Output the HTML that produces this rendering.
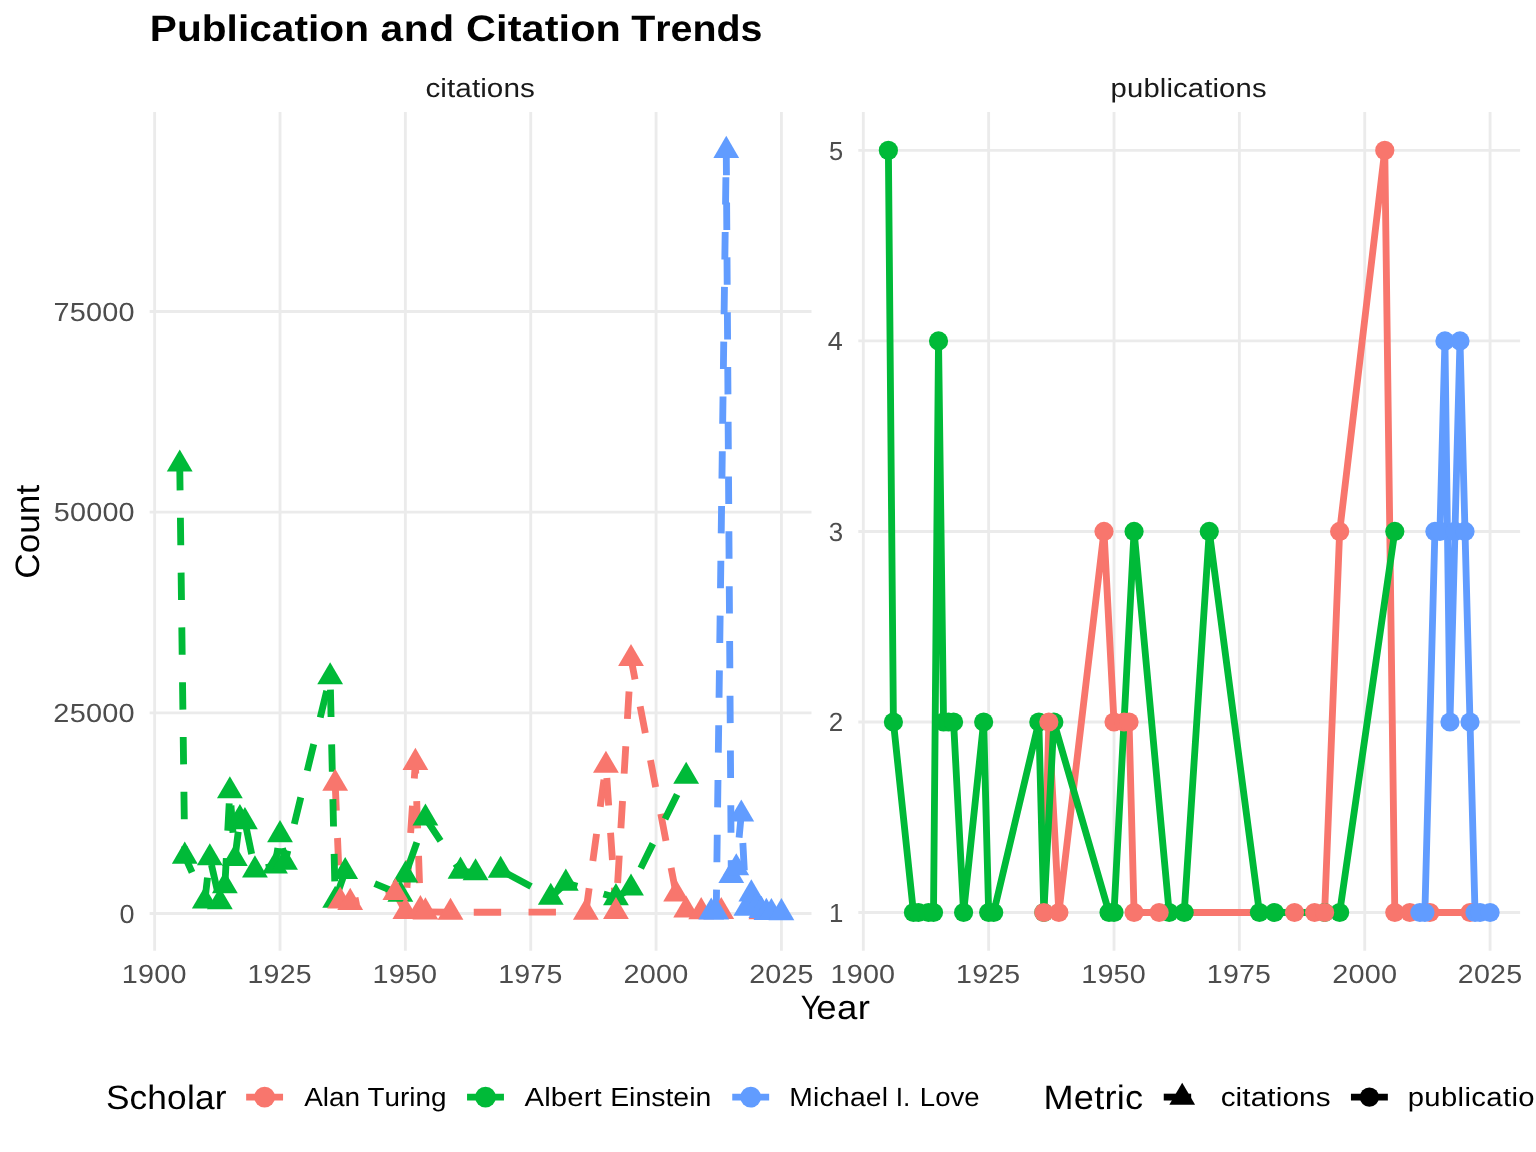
<!DOCTYPE html>
<html><head><meta charset="utf-8"><title>Publication and Citation Trends</title>
<style>html,body{margin:0;padding:0;background:#fff;width:1536px;height:1152px;overflow:hidden}body{position:relative;font-family:"Liberation Sans",sans-serif}</style>
</head><body>
<svg width="1536" height="1152" viewBox="0 0 1536 1152" style="display:block;position:absolute;left:0;top:0">
<rect width="1536" height="1152" fill="#fff"/>
<g stroke="#EBEBEB" stroke-width="2.85" fill="none">
<path d="M149.65 913.5H811.5"/>
<path d="M149.65 712.83H811.5"/>
<path d="M149.65 512.17H811.5"/>
<path d="M149.65 311.5H811.5"/>
<path d="M154.66 112.06V950.75"/>
<path d="M280.01 112.06V950.75"/>
<path d="M405.36 112.06V950.75"/>
<path d="M530.72 112.06V950.75"/>
<path d="M656.07 112.06V950.75"/>
<path d="M781.42 112.06V950.75"/>
</g>
<g stroke="#EBEBEB" stroke-width="2.85" fill="none">
<path d="M858.3 912.5H1520.1"/>
<path d="M858.3 721.98H1520.1"/>
<path d="M858.3 531.45H1520.1"/>
<path d="M858.3 340.92H1520.1"/>
<path d="M858.3 150.4H1520.1"/>
<path d="M863.31 112.06V950.75"/>
<path d="M988.66 112.06V950.75"/>
<path d="M1114.01 112.06V950.75"/>
<path d="M1239.37 112.06V950.75"/>
<path d="M1364.72 112.06V950.75"/>
<path d="M1490.07 112.06V950.75"/>
</g>
<g>
<g fill="none" stroke="#F8766D" stroke-width="6.85" stroke-dasharray="27.4 27.4">
<path d="M335.17 783.26L340.18 900.9" stroke-dashoffset="0"/>
<path d="M340.18 900.9L350.21 902.34" stroke-dashoffset="8.15"/>
<path d="M350.21 902.34L395.34 892.47" stroke-dashoffset="18.28"/>
<path d="M395.34 892.47L405.36 911.41" stroke-dashoffset="9.67"/>
<path d="M405.36 911.41L415.39 762.36" stroke-dashoffset="31.1"/>
<path d="M415.39 762.36L420.41 909.54" stroke-dashoffset="16.1"/>
<path d="M420.41 909.54L425.42 911.8" stroke-dashoffset="53.77"/>
<path d="M425.42 911.8L450.49 912.25" stroke-dashoffset="4.46"/>
<path d="M450.49 912.25L585.87 912.15" stroke-dashoffset="31.54"/>
<path d="M585.87 912.15L605.93 765.21" stroke-dashoffset="3.22"/>
<path d="M605.93 765.21L615.95 911.4" stroke-dashoffset="41.92"/>
<path d="M615.95 911.4L631 658.49" stroke-dashoffset="26.36"/>
<path d="M631 658.49L676.12 893.91" stroke-dashoffset="6.11"/>
<path d="M676.12 893.91L686.15 909.9" stroke-dashoffset="26.62"/>
<path d="M686.15 909.9L701.19 911.57" stroke-dashoffset="45.49"/>
<path d="M701.19 911.57L721.25 911.49" stroke-dashoffset="5.82"/>
<path d="M721.25 911.49L761.36 911.7" stroke-dashoffset="25.88"/>
</g>
<g fill="none" stroke="#00BA38" stroke-width="6.85" stroke-dasharray="27.4 27.4">
<path d="M179.73 464.01L184.75 856.03" stroke-dashoffset="1"/>
<path d="M184.75 856.03L204.8 901" stroke-dashoffset="9.45"/>
<path d="M204.8 901L209.82 857.71" stroke-dashoffset="3.9"/>
<path d="M209.82 857.71L219.85 901.7" stroke-dashoffset="47.47"/>
<path d="M219.85 901.7L224.86 885.73" stroke-dashoffset="37.79"/>
<path d="M224.86 885.73L229.87 790.76" stroke-dashoffset="54.53"/>
<path d="M229.87 790.76L234.89 858.52" stroke-dashoffset="40.03"/>
<path d="M234.89 858.52L239.9 818.46" stroke-dashoffset="0.38"/>
<path d="M239.9 818.46L244.92 821.59" stroke-dashoffset="40.75"/>
<path d="M244.92 821.59L254.94 869.83" stroke-dashoffset="49.16"/>
<path d="M254.94 869.83L275 865.9" stroke-dashoffset="43.63"/>
<path d="M275 865.9L280.01 834.6" stroke-dashoffset="9.27"/>
<path d="M280.01 834.6L285.03 862.05" stroke-dashoffset="40.97"/>
<path d="M285.03 862.05L330.15 676.71" stroke-dashoffset="15.58"/>
<path d="M330.15 676.71L335.17 900.18" stroke-dashoffset="41.93"/>
<path d="M335.17 900.18L345.2 871.44" stroke-dashoffset="46.24"/>
<path d="M345.2 871.44L400.35 894.2" stroke-dashoffset="22.88"/>
<path d="M400.35 894.2L405.36 874.97" stroke-dashoffset="27.75"/>
<path d="M405.36 874.97L425.42 817.98" stroke-dashoffset="47.62"/>
<path d="M425.42 817.98L460.52 871.12" stroke-dashoffset="54.74"/>
<path d="M460.52 871.12L475.56 872.72" stroke-dashoffset="7.82"/>
<path d="M475.56 872.72L500.63 870.16" stroke-dashoffset="22.95"/>
<path d="M500.63 870.16L550.77 897.13" stroke-dashoffset="47.65"/>
<path d="M550.77 897.13L565.81 883.12" stroke-dashoffset="49.78"/>
<path d="M565.81 883.12L615.95 897.57" stroke-dashoffset="15.53"/>
<path d="M615.95 897.57L631 887.98" stroke-dashoffset="12.91"/>
<path d="M631 887.98L686.15 776.24" stroke-dashoffset="32.75"/>
</g>
<g fill="none" stroke="#619CFF" stroke-width="6.85" stroke-dasharray="27.4 27.4">
<path d="M711.22 912L716.23 911.97" stroke-dashoffset="0"/>
<path d="M716.23 911.97L726.26 150.31" stroke-dashoffset="5.01"/>
<path d="M726.26 150.31L731.28 875.45" stroke-dashoffset="2.55"/>
<path d="M731.28 875.45L736.29 867.75" stroke-dashoffset="15.31"/>
<path d="M736.29 867.75L741.3 813.97" stroke-dashoffset="24.5"/>
<path d="M741.3 813.97L746.32 908.2" stroke-dashoffset="25.71"/>
<path d="M746.32 908.2L751.33 893.83" stroke-dashoffset="10.48"/>
<path d="M751.33 893.83L756.35 906.28" stroke-dashoffset="25.7"/>
<path d="M756.35 906.28L761.36 910.29" stroke-dashoffset="39.11"/>
<path d="M761.36 910.29L766.37 912.3" stroke-dashoffset="45.53"/>
<path d="M766.37 912.3L771.39 912.38" stroke-dashoffset="50.93"/>
<path d="M771.39 912.38L781.42 912.55" stroke-dashoffset="1.15"/>
</g>
<path d="M179.73 449.51L192.63 471.61H166.83Z" fill="#00BA38"/>
<path d="M184.75 841.53L197.65 863.63H171.85Z" fill="#00BA38"/>
<path d="M204.8 886.5L217.7 908.6H191.9Z" fill="#00BA38"/>
<path d="M209.82 843.21L222.72 865.31H196.92Z" fill="#00BA38"/>
<path d="M219.85 887.2L232.75 909.3H206.95Z" fill="#00BA38"/>
<path d="M224.86 871.23L237.76 893.33H211.96Z" fill="#00BA38"/>
<path d="M229.87 776.26L242.77 798.36H216.97Z" fill="#00BA38"/>
<path d="M234.89 844.02L247.79 866.12H221.99Z" fill="#00BA38"/>
<path d="M239.9 803.96L252.8 826.06H227Z" fill="#00BA38"/>
<path d="M244.92 807.09L257.82 829.19H232.02Z" fill="#00BA38"/>
<path d="M254.94 855.33L267.84 877.43H242.04Z" fill="#00BA38"/>
<path d="M275 851.4L287.9 873.5H262.1Z" fill="#00BA38"/>
<path d="M280.01 820.1L292.91 842.2H267.11Z" fill="#00BA38"/>
<path d="M285.03 847.55L297.93 869.65H272.13Z" fill="#00BA38"/>
<path d="M330.15 662.21L343.05 684.31H317.25Z" fill="#00BA38"/>
<path d="M335.17 885.68L348.07 907.78H322.27Z" fill="#00BA38"/>
<path d="M345.2 856.94L358.1 879.04H332.3Z" fill="#00BA38"/>
<path d="M400.35 879.7L413.25 901.8H387.45Z" fill="#00BA38"/>
<path d="M405.36 860.47L418.26 882.57H392.46Z" fill="#00BA38"/>
<path d="M425.42 803.48L438.32 825.58H412.52Z" fill="#00BA38"/>
<path d="M460.52 856.62L473.42 878.72H447.62Z" fill="#00BA38"/>
<path d="M475.56 858.22L488.46 880.32H462.66Z" fill="#00BA38"/>
<path d="M500.63 855.66L513.53 877.76H487.73Z" fill="#00BA38"/>
<path d="M550.77 882.63L563.67 904.73H537.87Z" fill="#00BA38"/>
<path d="M565.81 868.62L578.71 890.72H552.91Z" fill="#00BA38"/>
<path d="M615.95 883.07L628.85 905.17H603.05Z" fill="#00BA38"/>
<path d="M631 873.48L643.9 895.58H618.1Z" fill="#00BA38"/>
<path d="M686.15 761.74L699.05 783.84H673.25Z" fill="#00BA38"/>
<path d="M335.17 768.76L348.07 790.86H322.27Z" fill="#F8766D"/>
<path d="M340.18 886.4L353.08 908.5H327.28Z" fill="#F8766D"/>
<path d="M350.21 887.84L363.11 909.94H337.31Z" fill="#F8766D"/>
<path d="M395.34 877.97L408.24 900.07H382.44Z" fill="#F8766D"/>
<path d="M405.36 896.91L418.26 919.01H392.46Z" fill="#F8766D"/>
<path d="M415.39 747.86L428.29 769.96H402.49Z" fill="#F8766D"/>
<path d="M420.41 895.04L433.31 917.14H407.51Z" fill="#F8766D"/>
<path d="M425.42 897.3L438.32 919.4H412.52Z" fill="#F8766D"/>
<path d="M450.49 897.75L463.39 919.85H437.59Z" fill="#F8766D"/>
<path d="M585.87 897.65L598.77 919.75H572.97Z" fill="#F8766D"/>
<path d="M605.93 750.71L618.83 772.81H593.03Z" fill="#F8766D"/>
<path d="M615.95 896.9L628.85 919H603.05Z" fill="#F8766D"/>
<path d="M631 643.99L643.9 666.09H618.1Z" fill="#F8766D"/>
<path d="M676.12 879.41L689.02 901.51H663.22Z" fill="#F8766D"/>
<path d="M686.15 895.4L699.05 917.5H673.25Z" fill="#F8766D"/>
<path d="M701.19 897.07L714.09 919.17H688.29Z" fill="#F8766D"/>
<path d="M721.25 896.99L734.15 919.09H708.35Z" fill="#F8766D"/>
<path d="M761.36 897.2L774.26 919.3H748.46Z" fill="#F8766D"/>
<path d="M711.22 897.5L724.12 919.6H698.32Z" fill="#619CFF"/>
<path d="M716.23 897.47L729.13 919.57H703.33Z" fill="#619CFF"/>
<path d="M726.26 135.81L739.16 157.91H713.36Z" fill="#619CFF"/>
<path d="M731.28 860.95L744.18 883.05H718.38Z" fill="#619CFF"/>
<path d="M736.29 853.25L749.19 875.35H723.39Z" fill="#619CFF"/>
<path d="M741.3 799.47L754.2 821.57H728.4Z" fill="#619CFF"/>
<path d="M746.32 893.7L759.22 915.8H733.42Z" fill="#619CFF"/>
<path d="M751.33 879.33L764.23 901.43H738.43Z" fill="#619CFF"/>
<path d="M756.35 891.78L769.25 913.88H743.45Z" fill="#619CFF"/>
<path d="M761.36 895.79L774.26 917.89H748.46Z" fill="#619CFF"/>
<path d="M766.37 897.8L779.27 919.9H753.47Z" fill="#619CFF"/>
<path d="M771.39 897.88L784.29 919.98H758.49Z" fill="#619CFF"/>
<path d="M781.42 898.05L794.32 920.15H768.52Z" fill="#619CFF"/>
</g>
<g>
<path d="M1043.82 912.5L1048.83 721.98L1058.86 912.5L1103.99 531.45L1114.01 721.98L1124.04 721.98L1129.06 721.98L1134.07 912.5L1159.14 912.5L1294.52 912.5L1314.58 912.5L1324.6 912.5L1339.65 531.45L1384.77 150.4L1394.8 912.5L1409.84 912.5L1429.9 912.5L1470.01 912.5" fill="none" stroke="#F8766D" stroke-width="6.85" stroke-linejoin="round"/>
<path d="M888.38 150.4L893.4 721.98L913.45 912.5L918.47 912.5L928.5 912.5L933.51 912.5L938.52 340.92L943.54 721.98L948.55 721.98L953.57 721.98L963.59 912.5L983.65 721.98L988.66 912.5L993.68 912.5L1038.8 721.98L1043.82 912.5L1053.85 721.98L1109 912.5L1114.01 912.5L1134.07 531.45L1169.17 912.5L1184.21 912.5L1209.28 531.45L1259.42 912.5L1274.46 912.5L1324.6 912.5L1339.65 912.5L1394.8 531.45" fill="none" stroke="#00BA38" stroke-width="6.85" stroke-linejoin="round"/>
<path d="M1419.87 912.5L1424.88 912.5L1434.91 531.45L1439.93 531.45L1444.94 340.92L1449.95 721.98L1454.97 531.45L1459.98 340.92L1465 531.45L1470.01 721.98L1475.02 912.5L1480.04 912.5L1490.07 912.5" fill="none" stroke="#619CFF" stroke-width="6.85" stroke-linejoin="round"/>
<g fill="#00BA38">
<circle cx="888.38" cy="150.4" r="9.6"/>
<circle cx="893.4" cy="721.98" r="9.6"/>
<circle cx="913.45" cy="912.5" r="9.6"/>
<circle cx="918.47" cy="912.5" r="9.6"/>
<circle cx="928.5" cy="912.5" r="9.6"/>
<circle cx="933.51" cy="912.5" r="9.6"/>
<circle cx="938.52" cy="340.92" r="9.6"/>
<circle cx="943.54" cy="721.98" r="9.6"/>
<circle cx="948.55" cy="721.98" r="9.6"/>
<circle cx="953.57" cy="721.98" r="9.6"/>
<circle cx="963.59" cy="912.5" r="9.6"/>
<circle cx="983.65" cy="721.98" r="9.6"/>
<circle cx="988.66" cy="912.5" r="9.6"/>
<circle cx="993.68" cy="912.5" r="9.6"/>
<circle cx="1038.8" cy="721.98" r="9.6"/>
<circle cx="1043.82" cy="912.5" r="9.6"/>
<circle cx="1053.85" cy="721.98" r="9.6"/>
<circle cx="1109" cy="912.5" r="9.6"/>
<circle cx="1114.01" cy="912.5" r="9.6"/>
<circle cx="1134.07" cy="531.45" r="9.6"/>
<circle cx="1169.17" cy="912.5" r="9.6"/>
<circle cx="1184.21" cy="912.5" r="9.6"/>
<circle cx="1209.28" cy="531.45" r="9.6"/>
<circle cx="1259.42" cy="912.5" r="9.6"/>
<circle cx="1274.46" cy="912.5" r="9.6"/>
<circle cx="1324.6" cy="912.5" r="9.6"/>
<circle cx="1339.65" cy="912.5" r="9.6"/>
<circle cx="1394.8" cy="531.45" r="9.6"/>
</g>
<g fill="#F8766D">
<circle cx="1043.82" cy="912.5" r="9.6"/>
<circle cx="1048.83" cy="721.98" r="9.6"/>
<circle cx="1058.86" cy="912.5" r="9.6"/>
<circle cx="1103.99" cy="531.45" r="9.6"/>
<circle cx="1114.01" cy="721.98" r="9.6"/>
<circle cx="1124.04" cy="721.98" r="9.6"/>
<circle cx="1129.06" cy="721.98" r="9.6"/>
<circle cx="1134.07" cy="912.5" r="9.6"/>
<circle cx="1159.14" cy="912.5" r="9.6"/>
<circle cx="1294.52" cy="912.5" r="9.6"/>
<circle cx="1314.58" cy="912.5" r="9.6"/>
<circle cx="1324.6" cy="912.5" r="9.6"/>
<circle cx="1339.65" cy="531.45" r="9.6"/>
<circle cx="1384.77" cy="150.4" r="9.6"/>
<circle cx="1394.8" cy="912.5" r="9.6"/>
<circle cx="1409.84" cy="912.5" r="9.6"/>
<circle cx="1429.9" cy="912.5" r="9.6"/>
<circle cx="1470.01" cy="912.5" r="9.6"/>
</g>
<g fill="#619CFF">
<circle cx="1419.87" cy="912.5" r="9.6"/>
<circle cx="1424.88" cy="912.5" r="9.6"/>
<circle cx="1434.91" cy="531.45" r="9.6"/>
<circle cx="1439.93" cy="531.45" r="9.6"/>
<circle cx="1444.94" cy="340.92" r="9.6"/>
<circle cx="1449.95" cy="721.98" r="9.6"/>
<circle cx="1454.97" cy="531.45" r="9.6"/>
<circle cx="1459.98" cy="340.92" r="9.6"/>
<circle cx="1465" cy="531.45" r="9.6"/>
<circle cx="1470.01" cy="721.98" r="9.6"/>
<circle cx="1475.02" cy="912.5" r="9.6"/>
<circle cx="1480.04" cy="912.5" r="9.6"/>
<circle cx="1490.07" cy="912.5" r="9.6"/>
</g>
</g>
<g font-family="'Liberation Sans', sans-serif" style="font-kerning:none" text-rendering="geometricPrecision" opacity="0.999">
<text transform="translate(149.78 41) scale(1.1039 1)" font-size="36.8" fill="#000" font-weight="bold" letter-spacing="0.03">Publication</text>
<text transform="translate(380.51 41) scale(1.1062 1)" font-size="36.8" fill="#000" font-weight="bold" letter-spacing="0.59">and</text>
<text transform="translate(466 41) scale(1.1251 1)" font-size="36.8" fill="#000" font-weight="bold" letter-spacing="0.1">Citation</text>
<text transform="translate(631.26 41) scale(1.0690 1)" font-size="36.8" fill="#000" font-weight="bold">Trends</text>
<text transform="translate(425.44 96.7) scale(1.1293 1)" font-size="26.3" fill="#1A1A1A" letter-spacing="0.05">citations</text>
<text transform="translate(1110.62 96.7) scale(1.1120 1)" font-size="26.3" fill="#1A1A1A" letter-spacing="0.12">publications</text>
<text transform="translate(119.55 922.7) scale(1.0261 1)" font-size="26.3" fill="#4D4D4D">0</text>
<text transform="translate(53.33 722.03) scale(1.1000 1)" font-size="26.3" fill="#4D4D4D" letter-spacing="0.19">25000</text>
<text transform="translate(53.74 521.37) scale(1.0944 1)" font-size="26.3" fill="#4D4D4D" letter-spacing="0.19">50000</text>
<text transform="translate(53.53 320.7) scale(1.0972 1)" font-size="26.3" fill="#4D4D4D" letter-spacing="0.19">75000</text>
<text transform="translate(828.92 921.7) scale(0.9800 1)" font-size="26.3" fill="#4D4D4D">1</text>
<text transform="translate(828.84 731.18) scale(0.9890 1)" font-size="26.3" fill="#4D4D4D">2</text>
<text transform="translate(828.73 540.65) scale(0.9854 1)" font-size="26.3" fill="#4D4D4D">3</text>
<text transform="translate(827.78 350.12) scale(1.0262 1)" font-size="26.3" fill="#4D4D4D">4</text>
<text transform="translate(828.91 159.6) scale(0.9684 1)" font-size="26.3" fill="#4D4D4D">5</text>
<text transform="translate(121.84 983.3) scale(1.0930 1)" font-size="26.3" fill="#4D4D4D" letter-spacing="0.19">1900</text>
<text transform="translate(247.47 983.3) scale(1.0848 1)" font-size="26.3" fill="#4D4D4D" letter-spacing="0.2">1925</text>
<text transform="translate(372.54 983.3) scale(1.0930 1)" font-size="26.3" fill="#4D4D4D" letter-spacing="0.19">1950</text>
<text transform="translate(498.17 983.3) scale(1.0848 1)" font-size="26.3" fill="#4D4D4D" letter-spacing="0.2">1975</text>
<text transform="translate(623.51 983.3) scale(1.0965 1)" font-size="26.3" fill="#4D4D4D" letter-spacing="0.19">2000</text>
<text transform="translate(749.14 983.3) scale(1.0884 1)" font-size="26.3" fill="#4D4D4D" letter-spacing="0.2">2025</text>
<text transform="translate(830.49 983.3) scale(1.0930 1)" font-size="26.3" fill="#4D4D4D" letter-spacing="0.19">1900</text>
<text transform="translate(956.12 983.3) scale(1.0848 1)" font-size="26.3" fill="#4D4D4D" letter-spacing="0.2">1925</text>
<text transform="translate(1081.19 983.3) scale(1.0930 1)" font-size="26.3" fill="#4D4D4D" letter-spacing="0.19">1950</text>
<text transform="translate(1206.82 983.3) scale(1.0848 1)" font-size="26.3" fill="#4D4D4D" letter-spacing="0.2">1975</text>
<text transform="translate(1332.16 983.3) scale(1.0965 1)" font-size="26.3" fill="#4D4D4D" letter-spacing="0.19">2000</text>
<text transform="translate(1457.79 983.3) scale(1.0884 1)" font-size="26.3" fill="#4D4D4D" letter-spacing="0.2">2025</text>
<text transform="translate(800.84 1019.2) scale(0.8880 1)" font-size="33.8" fill="#000">Y</text>
<text transform="translate(816.15 1019.2) scale(1.0818 1)" font-size="33.8" fill="#000" letter-spacing="0.38">ear</text>
<text transform="translate(39.3 578.79) rotate(-90) scale(1.0427 1)" font-size="33.8" fill="#000">Count</text>
<text transform="translate(105.9 1108.75) scale(1.0427 1)" font-size="33.8" fill="#000" letter-spacing="0.16">Scholar</text>
<text transform="translate(1043.44 1108.75) scale(1.0681 1)" font-size="33.8" fill="#000" letter-spacing="0.27">Metric</text>
<text transform="translate(304.15 1106) scale(1.0633 1)" font-size="26.3" fill="#000">Alan</text>
<text transform="translate(367.47 1106) scale(1.0587 1)" font-size="26.3" fill="#000">Turing</text>
<text transform="translate(524.54 1106) scale(1.1156 1)" font-size="26.3" fill="#000" letter-spacing="0.09">Albert</text>
<text transform="translate(610.17 1106) scale(1.0803 1)" font-size="26.3" fill="#000">Einstein</text>
<text transform="translate(789.18 1106) scale(1.0742 1)" font-size="26.3" fill="#000" letter-spacing="0.25">Michael</text>
<text transform="translate(895.67 1106) scale(1.0015 1)" font-size="26.3" fill="#000">I.</text>
<text transform="translate(919.84 1106) scale(1.0465 1)" font-size="26.3" fill="#000">Love</text>
<text transform="translate(1220.64 1106) scale(1.1293 1)" font-size="26.3" fill="#000" letter-spacing="0.11">citations</text>
<text transform="translate(1407.72 1106) scale(1.1120 1)" font-size="26.3" fill="#000" letter-spacing="0.33">publications</text>
</g>
<path d="M246.15 1097.1H283.05" stroke="#F8766D" stroke-width="6.85" fill="none"/>
<circle cx="264.6" cy="1097.1" r="10.4" fill="#F8766D"/>
<path d="M467.05 1097.1H503.95" stroke="#00BA38" stroke-width="6.85" fill="none"/>
<circle cx="485.5" cy="1097.1" r="10.4" fill="#00BA38"/>
<path d="M732.25 1097.1H769.15" stroke="#619CFF" stroke-width="6.85" fill="none"/>
<circle cx="750.7" cy="1097.1" r="10.4" fill="#619CFF"/>
<path d="M1163.75 1097.1H1200.65" stroke="#000" stroke-width="6.85" fill="none" stroke-dasharray="27.4 27.4"/>
<path d="M1182.2 1082.75L1195.1 1104.85H1169.3Z" fill="#000"/>
<path d="M1350.95 1097.1H1387.85" stroke="#000" stroke-width="6.85" fill="none"/>
<circle cx="1369.4" cy="1097.1" r="9.6" fill="#000"/>
</svg>
</body></html>
